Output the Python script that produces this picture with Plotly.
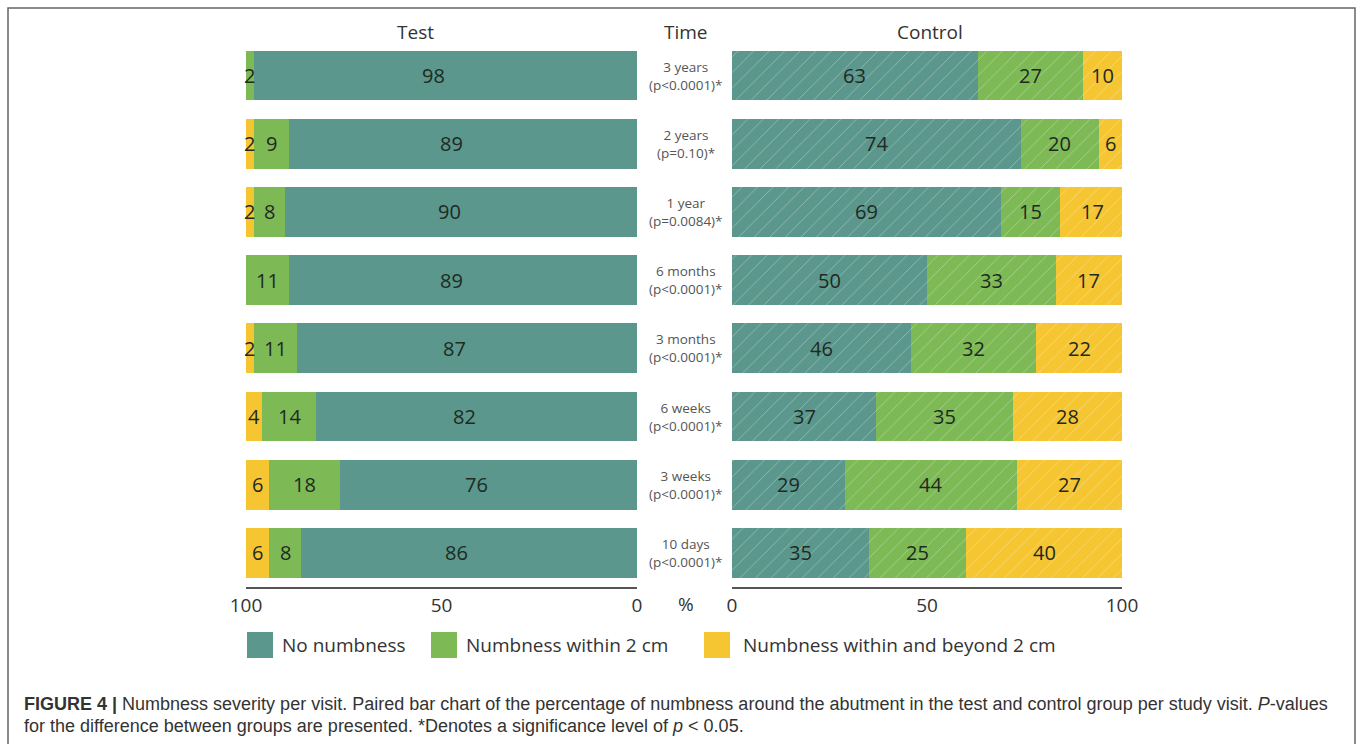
import plotly.graph_objects as go

# ---------------- data ----------------
times = ["3 years", "2 years", "1 year", "6 months", "3 months", "6 weeks", "3 weeks", "10 days"]
pvalues = ["(p<0.0001)*", "(p=0.10)*", "(p=0.0084)*", "(p<0.0001)*", "(p<0.0001)*",
           "(p<0.0001)*", "(p<0.0001)*", "(p<0.0001)*"]

test_none = [98, 89, 90, 89, 87, 82, 76, 86]
test_within = [2, 9, 8, 11, 11, 14, 18, 8]
test_beyond = [0, 2, 2, 0, 2, 4, 6, 6]

control_none = [63, 74, 69, 50, 46, 37, 29, 35]
control_within = [27, 20, 15, 33, 32, 35, 44, 25]
control_beyond = [10, 6, 17, 17, 22, 28, 27, 40]

series_names = ["No numbness", "Numbness within 2 cm", "Numbness within and beyond 2 cm"]
colors = ["#5B978C", "#7DB955", "#F5C532"]
tick_vals = [0, 50, 100]

# ---------------- layout helpers ----------------
W, H = 1358, 744
def px(x):
    return x / W
def py(y):
    return 1 - y / H

FONT = "Open Sans"
TXT = "#1E2A22"

fig = go.Figure()

test_series = [test_none, test_within, test_beyond]
control_series = [control_none, control_within, control_beyond]

for i, name in enumerate(series_names):
    fig.add_trace(go.Bar(
        y=times, x=test_series[i], orientation="h", name=name,
        marker=dict(color=colors[i], line=dict(width=0)),
        xaxis="x", yaxis="y", width=0.73, showlegend=False, hoverinfo="x+name"))
    fig.add_trace(go.Bar(
        y=times, x=control_series[i], orientation="h", name=name,
        marker=dict(color=colors[i], line=dict(width=0),
                    pattern=dict(shape="/", fgcolor="white", fgopacity=0.35,
                                 size=11, solidity=0.08, fillmode="overlay")),
        xaxis="x2", yaxis="y2", width=0.73, showlegend=False, hoverinfo="x+name"))

annotations = []
# value labels at segment centres
for series_set, xref, yref in [(test_series, "x", "y"), (control_series, "x2", "y2")]:
    for r, t in enumerate(times):
        base = 0
        for k, s in enumerate(series_set):
            v = s[r]
            if v > 0:
                shift = -12 if (xref == "x" and k == 0) else 0
                annotations.append(dict(x=base + v / 2, y=t, xref=xref, yref=yref,
                                        xanchor="center", yanchor="middle", xshift=shift,
                                        text=str(v), showarrow=False,
                                        font=dict(family=FONT, size=20, color=TXT)))
            base += v

# time labels
for t, p in zip(times, pvalues):
    annotations.append(dict(x=px(686), y=t, xref="paper", yref="y",
                            xanchor="center", yanchor="middle",
                            text=f"{t}<br>{p}", showarrow=False,
                            font=dict(family=FONT, size=13.5, color="#555555"),
                            align="center"))

# headers
for label, xc in [("Test", 415), ("Time", 686), ("Control", 930)]:
    annotations.append(dict(x=px(xc), y=py(32), xref="paper", yref="paper",
                            xanchor="center", yanchor="middle",
                            text=label, showarrow=False,
                            font=dict(family=FONT, size=19, color="#333333")))
annotations.append(dict(x=px(686), y=py(604), xref="paper", yref="paper", text="%",
                        xanchor="center", yanchor="middle",
                        showarrow=False, font=dict(family=FONT, size=19, color="#333333")))

# legend
shapes = []
legend_pos = [(247, 280), (431, 464), (704, 741)]
for (sx, tx), name, c in zip(legend_pos, series_names, colors):
    shapes.append(dict(type="rect", xref="paper", yref="paper",
                       x0=px(sx), x1=px(sx + 26), y0=py(658), y1=py(632),
                       fillcolor=c, line=dict(width=0)))
    annotations.append(dict(x=px(tx), y=py(645), xref="paper", yref="paper",
                            text=name, showarrow=False, xanchor="left", yanchor="middle",
                            font=dict(family=FONT, size=19, color="#333333")))

# caption
CAP_FONT = dict(family="Liberation Sans", size=18, color="#333333")
annotations.append(dict(x=px(22), y=py(704), xref="paper", yref="paper",
                        xanchor="left", yanchor="middle",
                        text="<b>FIGURE 4 |</b> Numbness severity per visit. Paired bar chart of the percentage of numbness around the abutment in the test and control group per study visit. <i>P</i>-values",
                        showarrow=False, font=CAP_FONT))
annotations.append(dict(x=px(22), y=py(726), xref="paper", yref="paper",
                        xanchor="left", yanchor="middle",
                        text="for the difference between groups are presented. *Denotes a significance level of <i>p</i> &lt; 0.05.",
                        showarrow=False, font=CAP_FONT))

# border box
shapes.append(dict(type="rect", xref="paper", yref="paper",
                   x0=px(8), x1=px(1355), y0=-0.05, y1=py(8),
                   line=dict(color="#666666", width=1.5), fillcolor="rgba(0,0,0,0)"))

ydom = [py(587), py(41.5)]
axis_common = dict(showgrid=False, zeroline=False, showline=True, linecolor="#555555",
                   linewidth=2, ticks="", tickvals=tick_vals, automargin=False,
                   tickfont=dict(family=FONT, size=19, color="#333333"), fixedrange=True)
yaxis_common = dict(domain=ydom, showticklabels=False, showgrid=False, automargin=False,
                    zeroline=False, showline=False, categoryorder="array",
                    categoryarray=times, range=[len(times) - 0.5, -0.5], fixedrange=True)

fig.update_layout(
    width=W, height=H, margin=dict(l=0, r=0, t=0, b=0, pad=0, autoexpand=False),
    paper_bgcolor="white", plot_bgcolor="white",
    barmode="stack", bargap=0.27,
    xaxis=dict(domain=[px(246), px(637)], range=[100, 0], anchor="y", **axis_common),
    xaxis2=dict(domain=[px(732), px(1122)], range=[0, 100], anchor="y2", **axis_common),
    yaxis=dict(anchor="x", **yaxis_common),
    yaxis2=dict(anchor="x2", **yaxis_common),
    annotations=annotations, shapes=shapes,
)

fig.write_html("out.html", config={"displayModeBar": False},
               post_script="document.body.style.margin='0';document.body.style.overflow='hidden';")
